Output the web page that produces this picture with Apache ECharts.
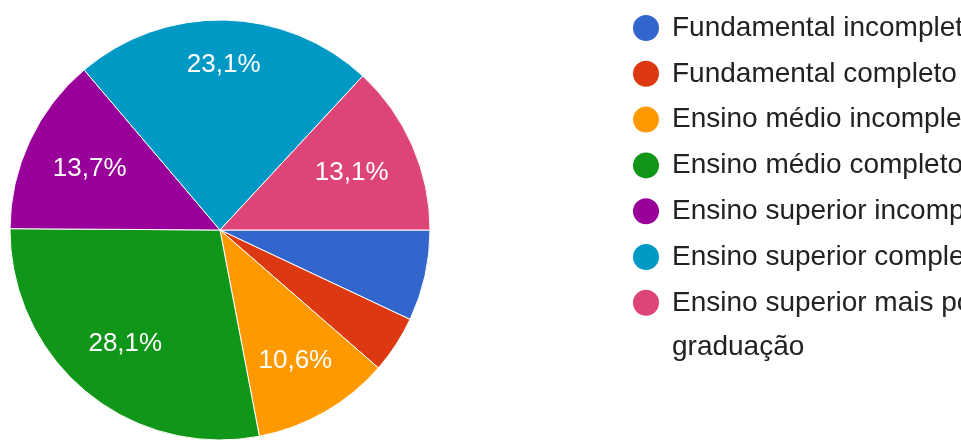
<!DOCTYPE html>
<html><head><meta charset="utf-8">
<script src="https://cdn.jsdelivr.net/npm/echarts@6/dist/echarts.min.js"></script>
<style>html,body{margin:0;padding:0;background:#fff}#c{width:961px;height:443px}</style>
</head><body><div id="c"></div>
<script>
const categories = ['Fundamental incompleto', 'Fundamental completo', 'Ensino médio incompleto', 'Ensino médio completo', 'Ensino superior incompleto', 'Ensino superior completo', 'Ensino superior mais pós-graduação'];
const values = [7.0, 4.4, 10.6, 28.1, 13.7, 23.1, 13.1];
const colors = ['#3366cc', '#dc3912', '#ff9900', '#109618', '#990099', '#0099c6', '#dd4477'];
const labelThreshold = 8;

const FONT = '"Liberation Sans", Arial, sans-serif';
const LINE_H = 44;
const CX = 220, CY = 230, R = 210;
const LABEL_CORNER_R = R * 0.87;

const chart = echarts.init(document.getElementById('c'), null, {renderer: 'canvas'});
const pieData = categories.map((n, i) => ({name: n, value: values[i], itemStyle: {color: colors[i]}}));
const fmtPct = v => v.toFixed(1).replace('.', ',') + '%';

// Google-style label placement: push each label out along its slice's mid-angle
// until the far corner of its box reaches a fixed radius.
function placeLabel(p) {
  const r = p.labelRect;
  if (!r || !r.width) return {};
  const lx = r.x + r.width / 2, ly = r.y + r.height / 2;
  let ux = lx - CX, uy = ly - CY;
  const len = Math.hypot(ux, uy) || 1;
  ux /= len; uy /= len;
  const hw = r.width / 2, hh = r.height / 2;
  const b = Math.abs(ux) * hw + Math.abs(uy) * hh;
  const c = hw * hw + hh * hh - LABEL_CORNER_R * LABEL_CORNER_R;
  const d = -b + Math.sqrt(b * b - c);
  return {x: CX + d * ux, y: CY + d * uy};
}

chart.setOption({
  animation: false,
  backgroundColor: '#fff',
  legend: {
    orient: 'vertical',
    left: 631,
    top: 6,
    padding: 0,
    itemGap: 1.8,
    itemWidth: 42,
    itemHeight: 28,
    icon: 'circle',
    selectedMode: false,
    textStyle: {
      fontFamily: FONT, fontSize: 28, color: '#222', lineHeight: LINE_H, height: LINE_H,
      rich: {t: {fontFamily: FONT, fontSize: 28, color: '#222', lineHeight: LINE_H}}
    },
    formatter: name => name.split('pós-').length > 1
      ? '{t|' + name.replace('pós-', 'pós-}\n{t|') + '}'
      : '{t|' + name + '}',
    data: categories
  },
  series: [
    {
      type: 'pie',
      center: [CX, CY],
      radius: [0, R],
      startAngle: 0,
      clockwise: true,
      avoidLabelOverlap: false,
      silent: true,
      itemStyle: {borderColor: '#fff', borderWidth: 1},
      label: {
        show: true,
        position: 'inside',
        fontFamily: FONT,
        fontSize: 26,
        color: '#fff',
        formatter: p => p.value >= labelThreshold ? fmtPct(p.value) : ''
      },
      labelLayout: placeLabel,
      labelLine: {show: false},
      data: pieData
    }
  ]
});
</script>
</body></html>
